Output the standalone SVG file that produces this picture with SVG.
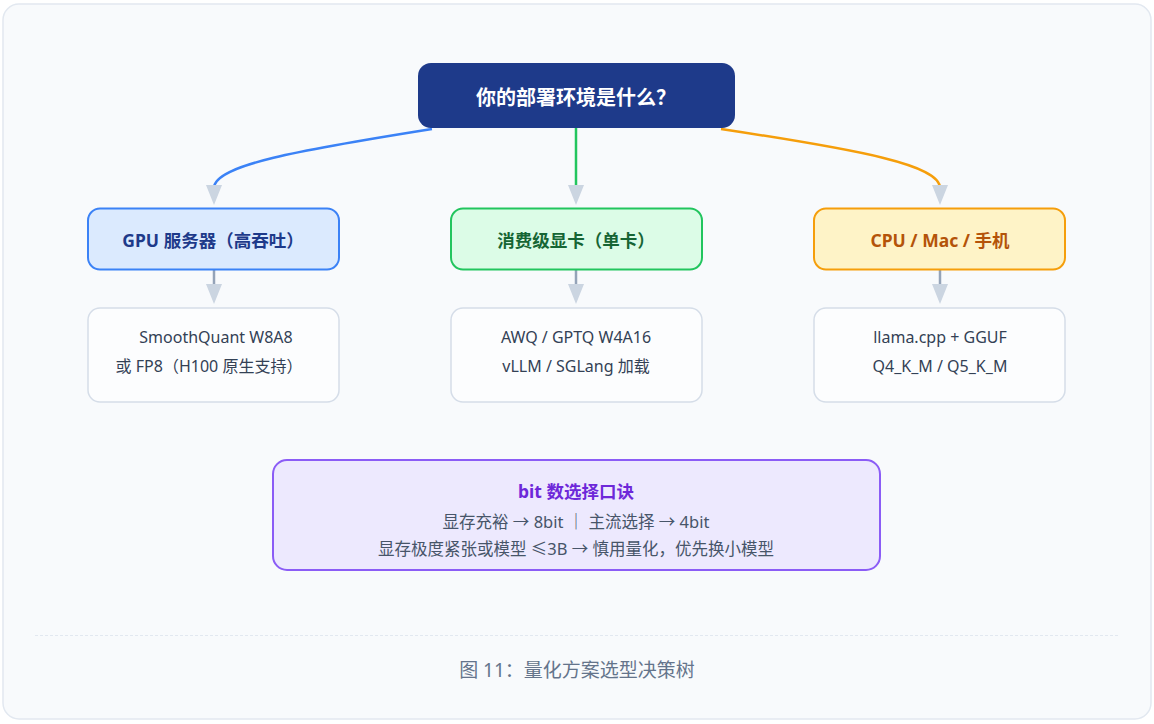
<svg xmlns="http://www.w3.org/2000/svg" width="1154" height="724" viewBox="0 0 1154 724">
<defs>
<style>
text{font-family:"Segoe UI","Noto Sans","Noto Sans CJK SC",sans-serif;text-anchor:middle;}
.q{font-size:20px;font-weight:700;fill:#ffffff;}
.h{font-size:17.5px;font-weight:700;}
.d{font-size:16px;fill:#334155;}
.leaf{fill:#fcfdfe;stroke:#d5dde8;stroke-width:1.5;}
.sub{stroke:#94a3b8;stroke-width:2.5;fill:none;}
.m{font-size:16.5px;fill:#475569;}
</style>
<marker id="ah" viewBox="0 0 20 16" refX="20" refY="8" markerWidth="20" markerHeight="16" markerUnits="userSpaceOnUse" orient="auto">
<path d="M0,0 L20,8 L0,16 Z" fill="#cbd5e1"/>
</marker>
</defs>
<rect x="3" y="4" width="1148" height="715" rx="16" fill="#f8fafc" stroke="#e2e8f0" stroke-width="1.5"/>

<g id="connectors">
<path d="M432,129 C300,150 214,165 214,188" fill="none" stroke="#3b82f6" stroke-width="2.5"/>
<path d="M576,128 L576,188" fill="none" stroke="#22c55e" stroke-width="2.5"/>
<path d="M721,129 C860,150 940,165 940,188" fill="none" stroke="#f59e0b" stroke-width="2.5"/>
<path d="M214,185 L214,205" fill="none" marker-end="url(#ah)"/>
<path d="M576,185 L576,205" fill="none" marker-end="url(#ah)"/>
<path d="M940,185 L940,205" fill="none" marker-end="url(#ah)"/>
<path class="sub" d="M214,270 L214,287"/>
<path class="sub" d="M576,270 L576,287"/>
<path class="sub" d="M940,270 L940,287"/>
<path d="M214,284 L214,304" fill="none" marker-end="url(#ah)"/>
<path d="M576,284 L576,304" fill="none" marker-end="url(#ah)"/>
<path d="M940,284 L940,304" fill="none" marker-end="url(#ah)"/>
</g>

<g id="root">
<rect x="418" y="63" width="317" height="65" rx="13" fill="#1e3a8a"/>
<text class="q" x="576" y="105">你的部署环境是什么？</text>
</g>

<g id="gpu">
<rect x="88" y="208.5" width="251" height="61" rx="12" fill="#dbeafe" stroke="#3b82f6" stroke-width="2"/>
<text class="h" x="213" y="247" fill="#1e3a8a">GPU 服务器（高吞吐）</text>
</g>
<g id="consumer">
<rect x="451" y="208.5" width="251" height="61" rx="12" fill="#dcfce7" stroke="#22c55e" stroke-width="2"/>
<text class="h" x="576" y="247" fill="#166534">消费级显卡（单卡）</text>
</g>
<g id="cpu">
<rect x="814" y="208.5" width="251" height="61" rx="12" fill="#fef3c7" stroke="#f59e0b" stroke-width="2"/>
<text class="h" x="940" y="247" fill="#b45309">CPU / Mac / 手机</text>
</g>

<g id="gpu-detail">
<rect class="leaf" x="88" y="308" width="251" height="94" rx="12"/>
<text class="d" x="216" y="343">SmoothQuant W8A8</text>
<text class="d" x="209" y="372">或 FP8（H100 原生支持）</text>
</g>
<g id="consumer-detail">
<rect class="leaf" x="451" y="308" width="251" height="94" rx="12"/>
<text class="d" x="576" y="343">AWQ / GPTQ W4A16</text>
<text class="d" x="576" y="372">vLLM / SGLang 加载</text>
</g>
<g id="cpu-detail">
<rect class="leaf" x="814" y="308" width="251" height="94" rx="12"/>
<text class="d" x="940" y="343">llama.cpp + GGUF</text>
<text class="d" x="940" y="372">Q4_K_M / Q5_K_M</text>
</g>

<g id="tips">
<rect x="273" y="460" width="607" height="110" rx="14" fill="#ede9fe" stroke="#8b5cf6" stroke-width="2"/>
<text class="h" x="576" y="498" fill="#6d28d9">bit 数选择口诀</text>
<text class="m" x="576" y="528">显存充裕 → 8bit  ｜  主流选择 → 4bit</text>
<text class="m" x="576" y="555">显存极度紧张或模型 ≤3B → 慎用量化，优先换小模型</text>
</g>

<line x1="35" y1="635.5" x2="1119" y2="635.5" stroke="#e2e8f0" stroke-width="1" stroke-dasharray="3,2"/>
<text x="577" y="677" font-size="19" fill="#64748b">图 11：量化方案选型决策树</text>
</svg>
